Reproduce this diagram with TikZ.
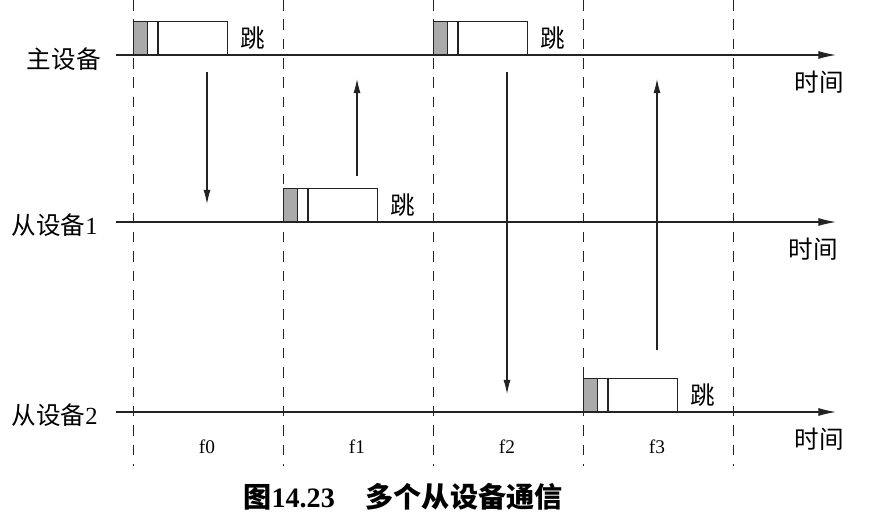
\documentclass[tikz,border=0pt]{standalone}
\usepackage{fontspec}
\usepackage{xcolor}
\usepackage{tikz}
\usetikzlibrary{arrows.meta, positioning, calc}
\setmainfont{Liberation Serif}
\newfontfamily\cjk{Noto Sans CJK SC}
\definecolor{mydark}{RGB}{35,35,35}
\definecolor{myshade}{RGB}{170,170,170}
\tikzset{
  timeline/.style={-{Latex[length=10pt,width=4.5pt]}, line width=0.6pt, color=mydark},
  framesep/.style={dashed, dash pattern=on 6pt off 5pt, line width=0.5pt, color=mydark},
  slotbox/.style={rectangle, draw=mydark, line width=0.7pt, minimum width=1.88cm,
    minimum height=0.66cm, anchor=south west, inner sep=0pt},
  accbox/.style={rectangle, draw=mydark, fill=myshade, line width=0.7pt,
    minimum width=0.28cm, minimum height=0.66cm, anchor=south west, inner sep=0pt},
  hoparrow/.style={-{Latex[length=8pt,width=4pt]}, line width=0.6pt, color=mydark},
  devlabel/.style={font=\fontsize{14}{16}\selectfont, anchor=east, inner sep=0pt},
  hoplabel/.style={font=\cjk\fontsize{14}{16}\selectfont, inner sep=0pt},
  timelabel/.style={font=\cjk\fontsize{14}{16}\selectfont, inner sep=0pt},
  freqlabel/.style={font=\fontsize{11}{13}\selectfont, inner sep=0pt}
}
\begin{document}
\begin{tikzpicture}[x=0.02cm, y=-0.02cm]
  \useasboundingbox (0,0) rectangle (871,519);

  % Device labels
  \node[devlabel] (master) at (101,59) {{\cjk 主设备}};
  \node[devlabel] (slave1) at (98,225) {{\cjk 从设备}1};
  \node[devlabel] (slave2) at (98,415) {{\cjk 从设备}2};

  % Time axes
  \coordinate (mstart) at (116,55);
  \coordinate (mend) at (836,55);
  \coordinate (sastart) at (116,222);
  \coordinate (saend) at (836,222);
  \coordinate (sbstart) at (116,412);
  \coordinate (sbend) at (836,412);
  \draw[timeline] (mstart) -- (mend);
  \draw[timeline] (sastart) -- (saend);
  \draw[timeline] (sbstart) -- (sbend);
  \node[timelabel] (tm) at (819,82) {时间};
  \node[timelabel] (tsa) at (813,249) {时间};
  \node[timelabel] (tsb) at (819,439) {时间};

  % Frame boundaries
  \draw[framesep] (133,0) -- (133,466);
  \draw[framesep] (283,0) -- (283,466);
  \draw[framesep] (433,0) -- (433,466);
  \draw[framesep] (583,0) -- (583,466);
  \draw[framesep] (733,0) -- (733,466);

  % Slot f0: master
  \node[slotbox] (slot0) at (133,55) {};
  \node[accbox] (acc0) at (133,55) {};
  \draw[line width=0.7pt, color=mydark] ($(slot0.south west)+(25,0)$) -- ($(slot0.north west)+(25,0)$);
  \node[hoplabel, right=7pt of slot0.east] (hop0) {跳};

  % Slot f1: slave 1
  \node[slotbox] (slot1) at (283,222) {};
  \node[accbox] (acc1) at (283,222) {};
  \draw[line width=0.7pt, color=mydark] ($(slot1.south west)+(25,0)$) -- ($(slot1.north west)+(25,0)$);
  \node[hoplabel, right=7pt of slot1.east] (hop1) {跳};

  % Slot f2: master
  \node[slotbox] (slot2) at (433,55) {};
  \node[accbox] (acc2) at (433,55) {};
  \draw[line width=0.7pt, color=mydark] ($(slot2.south west)+(25,0)$) -- ($(slot2.north west)+(25,0)$);
  \node[hoplabel, right=7pt of slot2.east] (hop2) {跳};

  % Slot f3: slave 2
  \node[slotbox] (slot3) at (583,412) {};
  \node[accbox] (acc3) at (583,412) {};
  \draw[line width=0.7pt, color=mydark] ($(slot3.south west)+(25,0)$) -- ($(slot3.north west)+(25,0)$);
  \node[hoplabel, right=7pt of slot3.east] (hop3) {跳};

  % Transfers between devices
  \coordinate (d0top) at (207,72);
  \coordinate (d0bot) at (207,204);
  \draw[hoparrow] (d0top) -- (d0bot);
  \coordinate (u1bot) at (357,176);
  \coordinate (u1top) at (357,79);
  \draw[hoparrow] (u1bot) -- (u1top);
  \coordinate (d2top) at (507,72);
  \coordinate (d2bot) at (507,394);
  \draw[hoparrow] (d2top) -- (d2bot);
  \coordinate (u3bot) at (657,350);
  \coordinate (u3top) at (657,79);
  \draw[hoparrow] (u3bot) -- (u3top);

  % Frequency labels
  \node[freqlabel] (f0) at (207,447) {f0};
  \node[freqlabel] (f1) at (357,447) {f1};
  \node[freqlabel] (f2) at (507,447) {f2};
  \node[freqlabel] (f3) at (657,447) {f3};

  % Caption
  \node[font=\bfseries\fontsize{16}{18}\selectfont] (caption) at (403,497)
    {{\cjk 图}14.23\hspace{1.1em}{\cjk 多个从设备通信}};
\end{tikzpicture}
\end{document}
